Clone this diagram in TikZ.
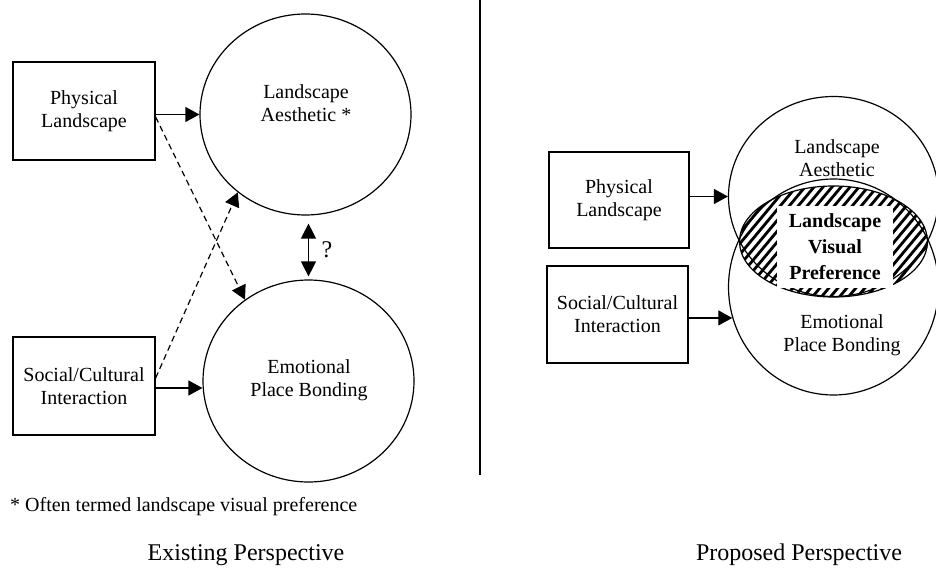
\documentclass[tikz,border=0pt]{standalone}
\usepackage{fontspec}
\setmainfont{Liberation Serif}
\usetikzlibrary{arrows.meta,shapes.geometric,calc}

\begin{document}
\begin{tikzpicture}[x=1pt,y=-1pt,
  every node/.style={font=\fontsize{20}{23}\selectfont},
  box/.style={draw,line width=1.3pt,minimum width=142pt,minimum height=98pt,inner sep=0pt,align=center},
  bubble/.style={draw,ellipse,line width=1.2pt,inner sep=0pt},
  txt/.style={align=center,inner sep=0pt},
  caption/.style={inner sep=0pt,font=\fontsize{24}{28}\selectfont},
  link/.style={line width=1.2pt,-{Triangle[length=14pt,width=15pt]}},
  dashlink/.style={link,dash pattern=on 6pt off 4pt},
  twoway/.style={line width=1.3pt,{Triangle[length=15pt,width=15pt]}-{Triangle[length=15pt,width=15pt]}},
  hatch/.style={line width=2.8pt},
]
\useasboundingbox (0,0) rectangle (936,569);

% ---------- existing perspective ----------
\node[box] (pl) at (84,111) {Physical\\Landscape};
\node[box] (sc) at (84,386) {Social/Cultural\\Interaction};

\node[bubble,minimum width=211pt,minimum height=201pt] (la) at (305.5,114.5) {};
\node[txt] (lat) at (306,103) {Landscape\\Aesthetic *};
\node[bubble,minimum width=211pt,minimum height=202pt] (ep) at (308.5,381) {};
\node[txt] (ept) at (309,380) {Emotional\\Place Bonding};

\draw[link] (pl.east |- la.west) -- (la.west);
\draw[link] ([yshift=-2pt]sc.east) -- ([yshift=-2pt]sc.east -| ep.west);
\draw[dashlink] ([yshift=-6pt]pl.east) -- (ep.128);
\draw[dashlink] ([yshift=8pt]sc.east) -- (la.229);
\draw[twoway] ($(ep.north |- la.south)+(0,8)$) -- ($(ep.north)+(0,-3)$);
\node[inner sep=0pt,font=\fontsize{24}{28}\selectfont] (q) at (327,250) {?};

\node[anchor=west,inner sep=0pt] (note) at (10,507) {* Often termed landscape visual preference};
\node[caption] (cap1) at (246,555) {Existing Perspective};

% divider
\coordinate (dtop) at (480,0);
\coordinate (dbot) at (480,475);
\draw[line width=1.3pt] (dtop) -- (dbot);

% ---------- proposed perspective ----------
\node[box,minimum width=140pt,minimum height=96pt] (pr) at (619,200) {Physical\\Landscape};
\node[box,minimum width=141pt,minimum height=97pt] (sr) at (617.5,314.5) {Social/Cultural\\Interaction};

\node[bubble,minimum width=210pt,minimum height=200pt] (ra) at (833.5,196.5) {};
\node[bubble,minimum width=210pt,minimum height=216pt] (re) at (833.5,287) {};
\node[txt] (rat) at (837,158) {Landscape\\Aesthetic};
\node[txt] (ret) at (842,335) {Emotional\\Place Bonding};

\draw[link] (pr.east |- ra.west) -- (ra.west);
\draw[link] (sr.east |- re.197) -- (re.197);

% hatched overlap
\begin{scope}
  \clip (833.5,241.5) ellipse [x radius=94pt, y radius=55.5pt];
  \foreach \s in {-260,-251,...,260}
    \draw[hatch] (833.5+\s-60,310) -- (833.5+\s+60,166);
\end{scope}
\draw[line width=1.2pt] (833.5,241.5) ellipse [x radius=94pt, y radius=55.5pt];
\node[fill=white,inner sep=0pt,minimum width=116pt,minimum height=82pt,align=center,
      font=\fontsize{20}{26}\selectfont\bfseries] (lvp) at (835,247) {Landscape\\Visual\\Preference};

\node[caption] (cap2) at (799,555) {Proposed Perspective};
\end{tikzpicture}
\end{document}
